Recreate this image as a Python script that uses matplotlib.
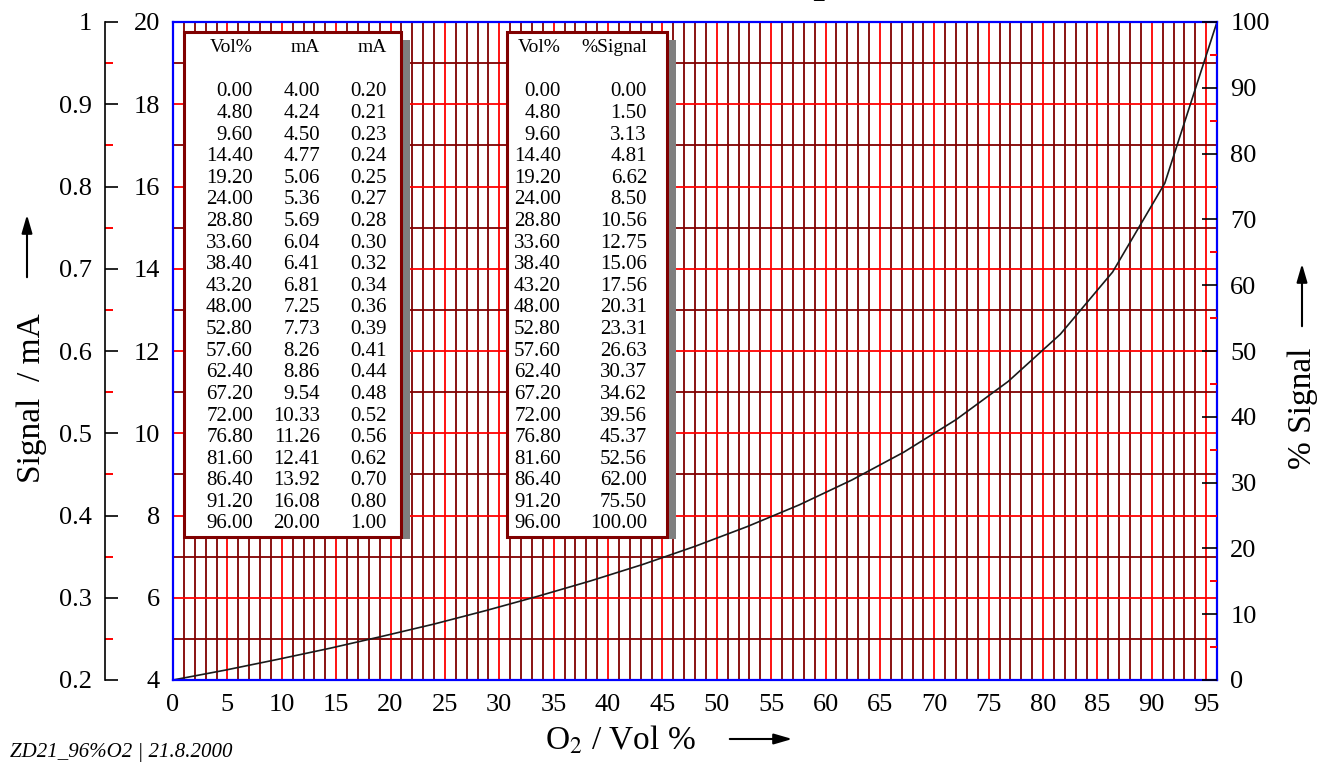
import numpy as np
import matplotlib.pyplot as plt
from matplotlib.patches import Rectangle
from matplotlib.ticker import MultipleLocator, FixedLocator

#-----------------------
#      Data
#-----------------------
vol = [0.00, 4.80, 9.60, 14.40, 19.20, 24.00, 28.80, 33.60, 38.40, 43.20, 48.00,
       52.80, 57.60, 62.40, 67.20, 72.00, 76.80, 81.60, 86.40, 91.20, 96.00]
signal_ma = [4.00, 4.24, 4.50, 4.77, 5.06, 5.36, 5.69, 6.04, 6.41, 6.81, 7.25,
             7.73, 8.26, 8.86, 9.54, 10.33, 11.26, 12.41, 13.92, 16.08, 20.00]
signal_ma_low = [0.20, 0.21, 0.23, 0.24, 0.25, 0.27, 0.28, 0.30, 0.32, 0.34, 0.36,
                 0.39, 0.41, 0.44, 0.48, 0.52, 0.56, 0.62, 0.70, 0.80, 1.00]
signal_pct = [0.00, 1.50, 3.13, 4.81, 6.62, 8.50, 10.56, 12.75, 15.06, 17.56, 20.31,
              23.31, 26.63, 30.37, 34.62, 39.56, 45.37, 52.56, 62.00, 75.50, 100.00]

x_ticks = list(range(0, 100, 5))
ma_ticks = [4, 6, 8, 10, 12, 14, 16, 18, 20]
ma_low_ticks = [0.2, 0.3, 0.4, 0.5, 0.6, 0.7, 0.8, 0.9, 1.0]
ma_low_labels = ['0.2', '0.3', '0.4', '0.5', '0.6', '0.7', '0.8', '0.9', '1']
pct_ticks = list(range(0, 101, 10))

W, H = 1338, 763
FONT = 'Liberation Serif'
plt.rcParams['font.family'] = [FONT, 'DejaVu Serif']
plt.rcParams['mathtext.fontset'] = 'stix'

RED = '#ff0000'
DARK = '#800000'
BLUE = '#0000ff'


def fx(px):
    return px / W


def fy(py):
    return 1 - py / H


fig = plt.figure(figsize=(W / 100, H / 100), dpi=100)
left, right, top, bottom = 173, 1217, 22, 680
ax = fig.add_axes([fx(left), fy(bottom), (right - left) / W, (bottom - top) / H])

ax.plot(vol, signal_ma, color='#1a1a1a', lw=1.2, zorder=5)
ax.set_xlim(0, 96)
ax.set_ylim(4, 20)

# grid: red on major, dark red on minor
ax.xaxis.set_major_locator(FixedLocator(x_ticks))
ax.xaxis.set_minor_locator(MultipleLocator(1))
ax.yaxis.set_major_locator(FixedLocator(ma_ticks))
ax.yaxis.set_minor_locator(MultipleLocator(1))
ax.grid(which='minor', color=DARK, lw=1.3, zorder=1)
ax.grid(which='major', color=RED, lw=1.3, zorder=2)
ax.set_axisbelow(True)
ax.tick_params(which='both', length=0)
ax.tick_params(axis='x', labelsize=19, pad=10)
ax.tick_params(axis='y', labelsize=19, pad=9.5)
for sp in ax.spines.values():
    sp.set_color(BLUE)
    sp.set_linewidth(1.6)
    sp.set_zorder(6)

# right axis: % signal
ax2 = ax.twinx()
ax2.set_ylim(0, 100)
ax2.yaxis.set_major_locator(FixedLocator(pct_ticks))
ax2.yaxis.set_minor_locator(MultipleLocator(5))
ax2.tick_params(axis='y', which='major', direction='in', length=11, width=1.2,
                color='black', labelsize=19, pad=9.5)
ax2.tick_params(axis='y', which='minor', direction='in', length=5, width=1.4,
                color=RED)
for sp in ax2.spines.values():
    sp.set_visible(False)

# far-left axis: signal 0.2-1 mA
ax3 = fig.add_axes([fx(105), fy(bottom), 0.0005, (bottom - top) / H])
ax3.set_ylim(0.2, 1.0)
ax3.patch.set_visible(False)
for name, sp in ax3.spines.items():
    sp.set_visible(name == 'left')
ax3.spines['left'].set_linewidth(1.2)
ax3.set_xticks([])
ax3.yaxis.set_major_locator(FixedLocator(ma_low_ticks))
ax3.set_yticklabels(ma_low_labels)
ax3.yaxis.set_minor_locator(MultipleLocator(0.05))
ax3.tick_params(axis='y', which='major', direction='in', length=9.5, width=1.2,
                labelsize=19, pad=9.5)
ax3.tick_params(axis='y', which='minor', direction='in', length=5.5, width=1.4,
                color=RED)


# value tables
def table_box(x0, x1, y0, y1):
    # grey shadow on the right-hand side
    fig.patches.append(Rectangle((fx(x1), fy(y1 + 2)), 9 / W, (y1 - y0 - 6) / H,
                                 transform=fig.transFigure, facecolor='#7f7f7f',
                                 edgecolor='none', zorder=10))
    fig.patches.append(Rectangle((fx(x0), fy(y1)), (x1 - x0) / W, (y1 - y0) / H,
                                 transform=fig.transFigure, facecolor='white',
                                 edgecolor=DARK, lw=2.2, zorder=11))


row_y0, row_dy = 92, 21.6
head_y = 48

table_box(184, 401, 32, 537)
for xr, head, col in [(253, 'Vol%', vol), (320, 'mA', signal_ma), (387, 'mA', signal_ma_low)]:
    fig.text(fx(xr), fy(head_y), head, ha='right', va='center', fontsize=14, zorder=12)
    for i, v in enumerate(col):
        fig.text(fx(xr), fy(row_y0 + i * row_dy), f'{v:.2f}', ha='right', va='center',
                 fontsize=15, zorder=12)

table_box(507, 667, 32, 537)
for xr, head, col in [(561, 'Vol%', vol), (647, '%Signal', signal_pct)]:
    fig.text(fx(xr), fy(head_y), head, ha='right', va='center', fontsize=14, zorder=12)
    for i, v in enumerate(col):
        fig.text(fx(xr), fy(row_y0 + i * row_dy), f'{v:.2f}', ha='right', va='center',
                 fontsize=15, zorder=12)

# axis labels with arrows
arrow = dict(arrowstyle='-|>,head_length=1.1,head_width=0.32', color='black', lw=1.5)
fig.text(fx(32), fy(398), 'Signal  / mA', rotation=90, ha='center', va='center', fontsize=24)
fig.add_artist(plt.Annotation('', xy=(fx(27), fy(212)), xytext=(fx(27), fy(280)),
                              xycoords='figure fraction', arrowprops=arrow))
fig.text(fx(1303), fy(408), '% Signal', rotation=90, ha='center', va='center', fontsize=24)
fig.add_artist(plt.Annotation('', xy=(fx(1302), fy(261)), xytext=(fx(1302), fy(329)),
                              xycoords='figure fraction', arrowprops=arrow))
fig.text(fx(620), fy(740), 'O$_2$ / Vol %', ha='center', va='center', fontsize=24)
fig.add_artist(plt.Annotation('', xy=(fx(795), fy(739)), xytext=(fx(727), fy(739)),
                              xycoords='figure fraction', arrowprops=arrow))

# cut-off title remnant at the top edge
fig.text(fx(828), 1 + 3 / H, 'O$_2$', ha='right', va='baseline', fontsize=28)

fig.text(fx(10), fy(753), 'ZD21_96%O2 | 21.8.2000', ha='left', va='center',
         fontsize=15, style='italic')

fig.savefig('out.png', dpi=100)
